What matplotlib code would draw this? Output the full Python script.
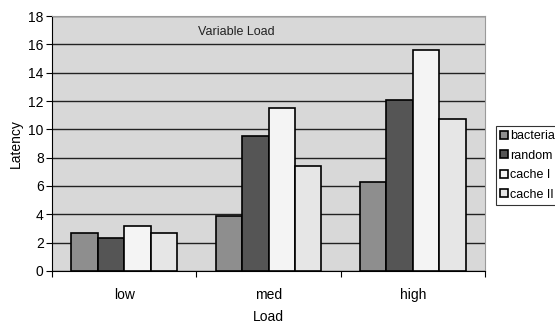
import matplotlib
matplotlib.use("Agg")
import matplotlib.pyplot as plt
import numpy as np

plt.rcParams['font.family'] = ['Liberation Sans', 'DejaVu Sans']

categories = ["low", "med", "high"]
series_names = ["bacteria", "random", "cache I", "cache II"]
bacteria = [2.7, 3.9, 6.25]
random_ = [2.35, 9.5, 12.1]
cache1 = [3.15, 11.5, 15.6]
cache2 = [2.65, 7.4, 10.7]
series = [bacteria, random_, cache1, cache2]
colors = ["#8e8e8e", "#555555", "#f4f4f4", "#e6e6e6"]
yticks = [0, 2, 4, 6, 8, 10, 12, 14, 16, 18]

fig = plt.figure(figsize=(5.55, 3.24), dpi=100)
ax = fig.add_axes([0.0937, 0.1636, 0.7803, 0.787])
ax.set_facecolor("#d8d8d8")

x = np.arange(len(categories))
bw = 0.183
for i, (vals, c, name) in enumerate(zip(series, colors, series_names)):
    offs = (i - 1.5) * bw
    ax.bar(x + offs, vals, width=bw, color=c, edgecolor="black", linewidth=1.2,
           label=name, zorder=3)

ax.set_ylim(0, 18)
ax.set_xlim(-0.5, 2.5)
ax.set_yticks(yticks)
ax.yaxis.grid(True, color="#222222", linewidth=1.0, zorder=0)
ax.set_axisbelow(True)

ax.set_xticks([-0.5, 0.5, 1.5, 2.5])
ax.set_xticklabels([])
ax.set_xticks(x, minor=True)
ax.set_xticklabels(categories, minor=True, fontsize=10)
ax.tick_params(axis='x', which='minor', length=0, pad=12)
ax.tick_params(axis='x', which='major', length=4, direction='out', color='black')
ax.tick_params(axis='y', length=4, labelsize=10, pad=2)

for s in ["top", "right"]:
    ax.spines[s].set_color("#9a9a9a")
ax.spines["left"].set_color("black")
ax.spines["bottom"].set_color("black")

ax.set_xlabel("Load", fontsize=10, labelpad=6)
ax.set_ylabel("Latency", fontsize=10, labelpad=4)

ax.text(0.78, 16.9, "Variable Load", fontsize=9, ha="center", va="center", color="#222222", zorder=4,
        transform=ax.transData)

leg = fig.legend(loc="upper left", bbox_to_anchor=(496/555, 1 - 126/324),
                 fontsize=9, frameon=True, fancybox=False, edgecolor="black",
                 handlelength=0.6, handleheight=0.6, handletextpad=0.15,
                 borderpad=0.35, labelspacing=0.6, borderaxespad=0)
leg.get_frame().set_linewidth(0.8)

fig.savefig("out.png", dpi=100)
